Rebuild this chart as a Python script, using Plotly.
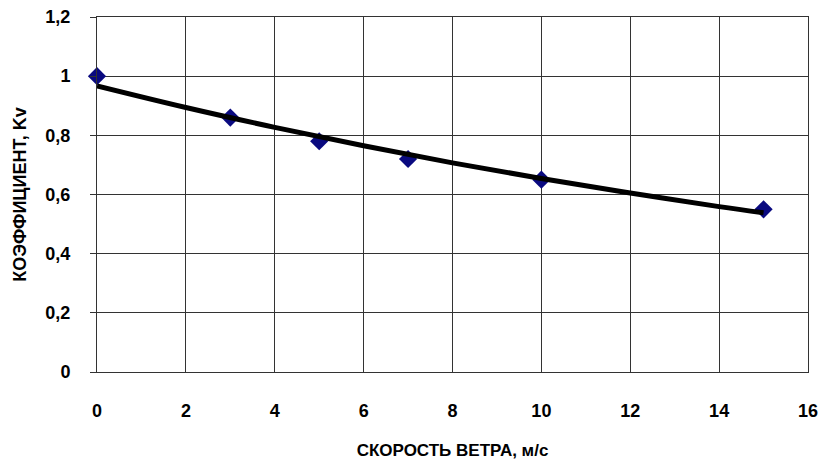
import plotly.graph_objects as go

# Measured points
speed = [0, 3, 5, 7, 10, 15]
coef = [1.0, 0.86, 0.78, 0.72, 0.65, 0.55]

# Trend line
trend_x = [0, 2, 4, 6, 8, 10, 12, 14, 15]
trend_y = [0.967, 0.894, 0.827, 0.765, 0.707, 0.654, 0.605, 0.559, 0.538]

x_ticks = [0, 2, 4, 6, 8, 10, 12, 14, 16]
x_labels = ["0", "2", "4", "6", "8", "10", "12", "14", "16"]
y_ticks = [0, 0.2, 0.4, 0.6, 0.8, 1.0, 1.2]
y_labels = ["0", "0,2", "0,4", "0,6", "0,8", "1", "1,2"]

fig = go.Figure()
fig.add_trace(go.Scatter(
    x=speed, y=coef, mode="markers",
    marker=dict(symbol="diamond", size=14, color="#0a0a80"),
    showlegend=False, cliponaxis=False,
))
fig.add_trace(go.Scatter(
    x=trend_x, y=trend_y, mode="lines",
    line=dict(color="black", width=5, shape="spline"),
    showlegend=False,
))

font_bold = "Liberation Sans"
fig.update_layout(
    width=820, height=460,
    margin=dict(l=97, r=12, t=17, b=88),
    paper_bgcolor="white", plot_bgcolor="white",
    font=dict(family=font_bold, color="black"),
    xaxis=dict(
        range=[0, 16], tickvals=x_ticks, ticktext=x_labels,
        showgrid=True, gridcolor="#333333", gridwidth=1,
        showline=True, linecolor="#333333", linewidth=1, mirror=True,
        zeroline=False, ticks="", ticklabelstandoff=22, automargin=False,
        ticklabeloverflow="allow",
        tickfont=dict(size=18, family=font_bold, weight="bold"),
        title=dict(text="СКОРОСТЬ ВЕТРА, м/с", standoff=24,
                   font=dict(size=17, family=font_bold, weight="bold")),
    ),
    yaxis=dict(
        range=[0, 1.2], tickvals=y_ticks, ticktext=y_labels,
        showgrid=True, gridcolor="#333333", gridwidth=1,
        showline=True, linecolor="#333333", linewidth=1, mirror=True,
        zeroline=False, ticks="outside", ticklen=6, tickcolor="#333333",
        ticklabelstandoff=16, automargin=False,
        ticklabeloverflow="allow",
        tickfont=dict(size=18, family=font_bold, weight="bold"),
        title=dict(text="КОЭФФИЦИЕНТ, Kv", standoff=14,
                   font=dict(size=18, family=font_bold, weight="bold")),
    ),
)

# Remove the default page margin so the figure fills the window exactly.
fig.write_html(
    "out.html",
    config={"displayModeBar": False},
    post_script="document.body.style.margin='0';document.body.style.overflow='hidden';",
)
